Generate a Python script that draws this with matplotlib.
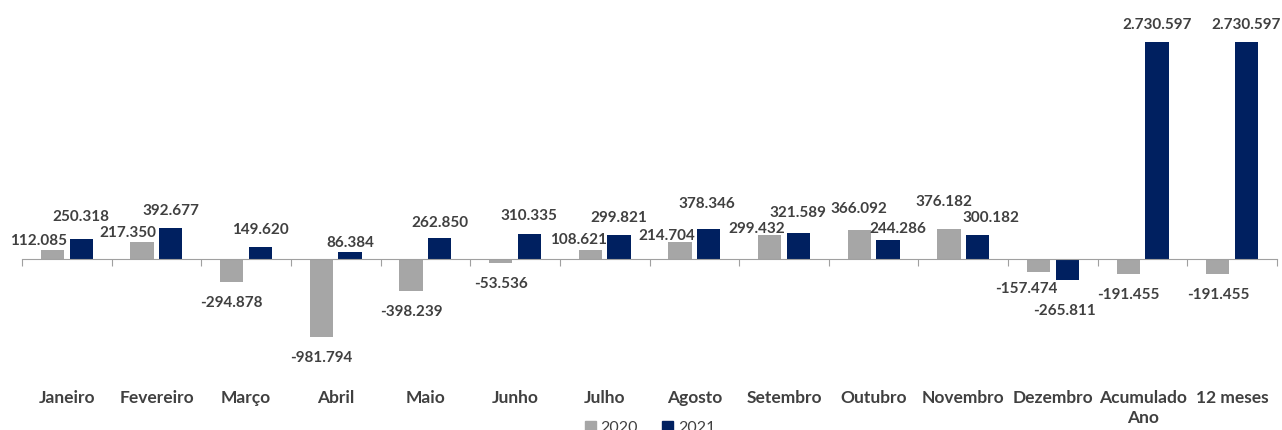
import matplotlib.pyplot as plt
import numpy as np
from matplotlib.patches import Patch

# Valores por mês
categorias = ['Janeiro', 'Fevereiro', 'Março', 'Abril', 'Maio', 'Junho', 'Julho',
              'Agosto', 'Setembro', 'Outubro', 'Novembro', 'Dezembro',
              'Acumulado\nAno', '12 meses']
v2020 = [112085, 217350, -294878, -981794, -398239, -53536, 108621,
         214704, 299432, 366092, 376182, -157474, -191455, -191455]
v2021 = [250318, 392677, 149620, 86384, 262850, 310335, 299821,
         378346, 321589, 244286, 300182, -265811, 2730597, 2730597]

# ajustes manuais dos rótulos (px: direita, cima), como no gráfico original
dx2020 = [-14, -14, 0, 0, 0, 0, -12, -13, -13, 0, -5, -12, 0, 0]
dy2020 = [-8, -8, 0, 0, 0, 0, -6, -11, -11, 4, 10, 3, 0, 0]
dx2021 = [0, 0, 0, 0, 0, 0, 0, -2, 0, 10, 13, -3, 0, 0]
dy2021 = [5, 0, 0, -8, -2, 2, 0, 8, 4, -6, 0, -10, 0, 0]

COR_2020 = '#a6a6a6'
COR_2021 = '#002060'
COR_TEXTO = '#404040'

plt.rcParams['font.family'] = ['Lato', 'DejaVu Sans']


def fmt(v):
    return '{:,}'.format(v).replace(',', '.')


fig = plt.figure(figsize=(12.82, 4.3), dpi=100)
ax = fig.add_axes([22 / 1282, 50 / 430, 1255 / 1282, 360 / 430])

x = np.arange(len(categorias))
largura = 0.26
desloc = 0.16
b1 = ax.bar(x - desloc, v2020, largura, color=COR_2020)
b2 = ax.bar(x + desloc, v2021, largura, color=COR_2021)

for barras, valores, dxs, dys in ((b1, v2020, dx2020, dy2020), (b2, v2021, dx2021, dy2021)):
    for b, v, dx, dy in zip(barras, valores, dxs, dys):
        cx = b.get_x() + b.get_width() / 2
        if v >= 0:
            off, va = 7, 'bottom'
        else:
            off, va = -10, 'top'
        ax.annotate(fmt(v), (cx, v), xytext=(dx * 0.72, off + dy * 0.72),
                    textcoords='offset points', ha='center', va=va,
                    fontsize=11, fontweight='bold', color=COR_TEXTO)

ax.set_xlim(-0.5, len(categorias) - 0.5)
ax.set_ylim(-1522600, 3007400)

for s in ['top', 'right', 'left']:
    ax.spines[s].set_visible(False)
ax.spines['bottom'].set_position(('data', 0))
ax.spines['bottom'].set_color('#a0a0a0')
ax.set_yticks([])

ax.set_xticks(np.arange(len(categorias) + 1) - 0.5)
ax.set_xticklabels([])
ax.tick_params(axis='x', which='major', length=5, color='#a0a0a0')
ax.set_xticks(x, minor=True)
ax.set_xticklabels(categorias, minor=True, fontsize=12.5, fontweight='bold',
                   color=COR_TEXTO, linespacing=1.35)
ax.tick_params(axis='x', which='minor', length=0, pad=94)

handles = [Patch(color=COR_2020, label='2020'), Patch(color=COR_2021, label='2021')]
fig.legend(handles=handles, loc='center', bbox_to_anchor=(650 / 1282, 2 / 430), ncol=2,
           frameon=False, fontsize=11.5, handlelength=0.7, handleheight=0.7,
           handletextpad=0.3, columnspacing=1.5, labelcolor=COR_TEXTO)

fig.savefig('out.png', dpi=100)
